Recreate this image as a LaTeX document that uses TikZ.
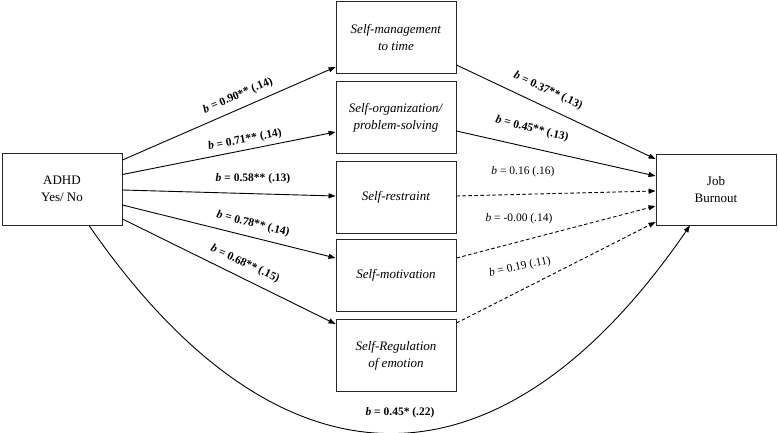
\documentclass[tikz,border=0pt]{standalone}
\usepackage{fontspec}
\setmainfont{Liberation Serif}
\usetikzlibrary{arrows.meta,calc}
\begin{document}
\begin{tikzpicture}[x=1pt,y=-1pt,
  box/.style={draw=black!85,line width=0.9pt,minimum width=120pt,minimum height=72pt,inner sep=0pt,align=center,font=\fontsize{13}{17}\selectfont},
  arr/.style={line width=0.9pt,-{Triangle[length=7pt,width=5pt]}},
  darr/.style={arr,dash pattern=on 3.5pt off 2.5pt},
  lab/.style={inner sep=0pt,font=\fontsize{11.5}{13}\selectfont\bfseries},
  nlab/.style={inner sep=0pt,font=\fontsize{11.5}{13}\selectfont}]
\useasboundingbox (0,0) rectangle (778,432);
\node[box] (adhd) at (62,189) {ADHD\\Yes/ No};
\node[box] (m1) at (396,37.5) {\textit{Self-management}\\\textit{to time}};
\node[box] (m2) at (396,117.5) {\textit{Self-organization/}\\\textit{problem-solving}};
\node[box] (m3) at (396,197.5) {\textit{Self-restraint}};
\node[box] (m4) at (396,275.5) {\textit{Self-motivation}};
\node[box] (m5) at (396,355.5) {\textit{Self-Regulation}\\\textit{of emotion}};
\node[box,minimum height=71pt] (job) at (716,189.5) {Job\\Burnout};
% ADHD -> mediators
\draw[arr] ($(adhd.east)+(0,-29)$) -- ($(m1.west)+(0,29.5)$);
\draw[arr] ($(adhd.east)+(0,-14.5)$) -- ($(m2.west)+(0,14.5)$);
\draw[arr] ($(adhd.east)+(0,1)$) -- ($(m3.west)+(0,-1.5)$);
\draw[arr] ($(adhd.east)+(0,16)$) -- ($(m4.west)+(0,-17.5)$);
\draw[arr] ($(adhd.east)+(0,30)$) -- ($(m5.west)+(0,-31.5)$);
% mediators -> Job burnout
\draw[arr] ($(m1.east)+(0,27.5)$) -- ($(job.west)+(0,-30.5)$);
\draw[arr] ($(m2.east)+(0,13.5)$) -- ($(job.west)+(0,-13.5)$);
\draw[darr] ($(m3.east)+(0,-1.5)$) -- ($(job.west)+(0,1.5)$);
\draw[darr] ($(m4.east)+(0,-17.5)$) -- ($(job.west)+(0,16.5)$);
\draw[darr] ($(m5.east)+(0,-32.5)$) -- ($(job.west)+(0,32.5)$);
% direct
\draw[arr] ($(adhd.south)+(27,0)$) .. controls (280,502) and (500,502) .. ($(job.south)+(-26,0)$);
% labels
\node[lab,rotate=23.5] (l1) at (238,96) {\textit{b} = 0.90** (.14)};
\node[lab,rotate=11] (l2) at (245,140) {\textit{b} = 0.71** (.14)};
\node[lab] (l3) at (253,179) {\textit{b} = 0.58** (.13)};
\node[lab,rotate=-14] (l4) at (253,224) {\textit{b} = 0.78** (.14)};
\node[lab,rotate=-25] (l5) at (245,264) {\textit{b} = 0.68** (.15)};
\node[lab,rotate=-25] (l6) at (548,91) {\textit{b} = 0.37** (.13)};
\node[lab,rotate=-14] (l7) at (532,129) {\textit{b} = 0.45** (.13)};
\node[nlab] (l8) at (523,172) {\textit{b} = 0.16 (.16)};
\node[nlab] (l9) at (519,219) {\textit{b} = -0.00 (.14)};
\node[nlab,rotate=12] (l10) at (520,267) {\textit{b} = 0.19 (.11)};
\node[lab] (l11) at (400,413) {\textit{b} = 0.45* (.22)};
\end{tikzpicture}
\end{document}
